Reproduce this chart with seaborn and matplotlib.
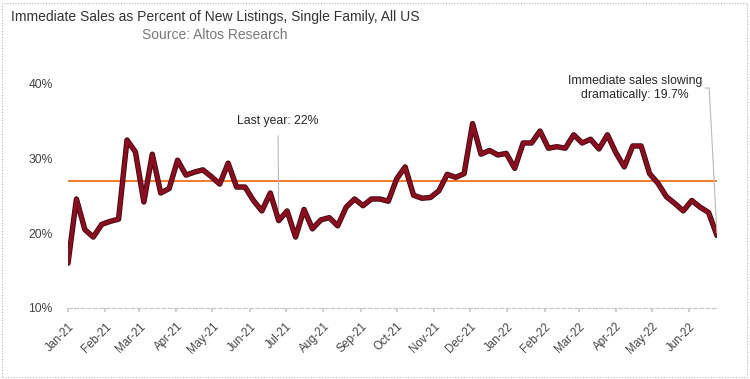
import matplotlib
matplotlib.use("Agg")
import matplotlib.pyplot as plt
import matplotlib.patheffects as pe
from matplotlib.patches import Rectangle
import seaborn as sns
import pandas as pd

# ---- data ----
start_date = "2021-01-01"
values = [16.0, 24.6, 20.5, 19.5, 21.2, 21.6, 21.9, 32.5, 30.9, 24.2,
          30.6, 25.4, 26.0, 29.8, 27.8, 28.2, 28.5, 27.6, 26.6, 29.4,
          26.2, 26.2, 24.4, 23.0, 25.4, 21.7, 23.0, 19.5, 23.2, 20.6,
          21.8, 22.1, 21.0, 23.5, 24.6, 23.7, 24.6, 24.6, 24.3, 27.3,
          28.9, 25.1, 24.7, 24.8, 25.7, 27.9, 27.5, 28.0, 34.7, 30.6,
          31.1, 30.5, 30.7, 28.7, 32.1, 32.1, 33.7, 31.4, 31.6, 31.4,
          33.2, 32.1, 32.6, 31.3, 33.2, 30.8, 28.9, 31.7, 31.7, 28.0,
          26.7, 24.9, 24.0, 23.0, 24.4, 23.5, 22.8, 19.7]
average = 27.0
tick_dates = ["2021-01-01", "2021-02-01", "2021-03-01", "2021-04-01", "2021-05-01",
              "2021-06-01", "2021-07-01", "2021-08-01", "2021-09-01", "2021-10-01",
              "2021-11-01", "2021-12-01", "2022-01-01", "2022-02-01", "2022-03-01",
              "2022-04-01", "2022-05-01", "2022-06-01"]
tick_labels = ["Jan-21", "Feb-21", "Mar-21", "Apr-21", "May-21", "Jun-21", "Jul-21",
               "Aug-21", "Sep-21", "Oct-21", "Nov-21", "Dec-21", "Jan-22", "Feb-22",
               "Mar-22", "Apr-22", "May-22", "Jun-22"]
y_ticks = [10, 20, 30, 40]
last_year_idx = 25

title = "Immediate Sales as Percent of New Listings, Single Family, All US"
subtitle = "Source: Altos Research"
note_last_year = "Last year: 22%"
note_now = "Immediate sales slowing\ndramatically: 19.7%"

dates = pd.date_range(start_date, periods=len(values), freq="7D")
df = pd.DataFrame({"date": dates, "pct": values})

# ---- style ----
sns.set_theme(style="white")
plt.rcParams["font.family"] = ["Liberation Sans", "DejaVu Sans"]

fig = plt.figure(figsize=(7.5, 3.79), dpi=100)
ax = fig.add_axes([68 / 750, 1 - 308 / 379, (717 - 68) / 750, (308 - 84) / 379])

sns.lineplot(data=df, x="date", y="pct", ax=ax, color="#8a0f1e", linewidth=2.7,
             path_effects=[pe.Stroke(linewidth=3.9, foreground="#3d0610"), pe.Normal()],
             zorder=3)
ax.axhline(average, color="#f47a2c", linewidth=1.4, zorder=2)

ax.set_xlim(dates[0], dates[-1])
ax.set_ylim(10, 40)
ax.set_yticks(y_ticks)
ax.set_yticklabels([f"{v}%" for v in y_ticks], fontsize=8.7, color="#444444")
ax.set_xticks(pd.to_datetime(tick_dates))
ax.set_xticklabels(tick_labels, rotation=45, ha="right", va="top",
                   rotation_mode="anchor", fontsize=8.3, color="#444444")
ax.tick_params(axis="x", length=3, color="#c8c8c8", pad=6, bottom=True)
ax.tick_params(axis="y", length=0, pad=11)
ax.set_xlabel("")
ax.set_ylabel("")
for s in ["top", "right", "left"]:
    ax.spines[s].set_visible(False)
ax.spines["bottom"].set_linestyle((0, (3, 2)))
ax.spines["bottom"].set_color("#c8c8c8")
ax.spines["bottom"].set_linewidth(0.9)

# annotations
ax.annotate(note_last_year, xy=(dates[last_year_idx], values[last_year_idx]),
            xycoords="data", xytext=(0.3236, 0.835), textcoords="axes fraction",
            ha="center", va="center", fontsize=8.8, color="#262626",
            arrowprops=dict(arrowstyle="-", color="#bbbbbb", lw=0.8,
                            shrinkA=4, shrinkB=8, relpos=(0.5, 0.0)))
ax.text(0.874, 0.982, note_now, transform=ax.transAxes,
        ha="center", va="center", fontsize=8.8, color="#262626",
        linespacing=1.25)
# leader line for the latest value
ax.annotate("", xy=(dates[-1], values[-1]), xycoords="data",
            xytext=(0.988, 0.982), textcoords="axes fraction",
            arrowprops=dict(arrowstyle="-", color="#bbbbbb", lw=0.8,
                            shrinkA=0, shrinkB=2),
            annotation_clip=False)
ax.annotate("", xy=(0.988, 0.982), xycoords="axes fraction",
            xytext=(0.981, 0.982), textcoords="axes fraction",
            arrowprops=dict(arrowstyle="-", color="#bbbbbb", lw=0.8,
                            shrinkA=0, shrinkB=0),
            annotation_clip=False)

# title
fig.text(215 / 750, 1 - 17 / 379, title, ha="center", va="center",
         fontsize=10, color="#333333")
fig.text(215 / 750, 1 - 35 / 379, subtitle, ha="center", va="center",
         fontsize=10, color="#777777")

# dotted frame
fig.patches.append(Rectangle((1.5 / 750, 2 / 379), 745 / 750, 374 / 379,
                             transform=fig.transFigure, fill=False,
                             edgecolor="#bbbbbb", linewidth=0.8,
                             linestyle=(0, (1, 1.5))))

fig.savefig("out.png", dpi=100)
